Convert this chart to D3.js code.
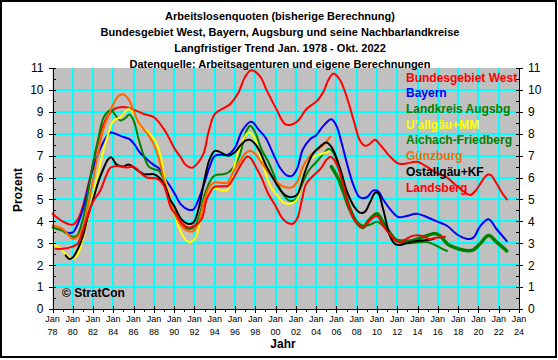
<!DOCTYPE html>
<html><head><meta charset="utf-8">
<script src="https://cdn.jsdelivr.net/npm/d3@7"></script>
<style>
body{margin:0;background:#fff}
svg{display:block}
text{font-family:Arial,"Liberation Sans",sans-serif}
</style>
</head><body>
<svg id="c" width="558" height="360"></svg>
<script>
const titleLines = [
  "Arbeitslosenquoten (bisherige Berechnung)",
  "Bundesgebiet West, Bayern, Augsburg und seine Nachbarlandkreise",
  "Langfristiger Trend Jan. 1978 - Okt. 2022",
  "Datenquelle: Arbeitsagenturen und eigene Berechnungen"
];
const seriesNames = ["Bundesgebiet West","Bayern","Landkreis Augsbg","U'allgäu+MM","Aichach-Friedberg","Günzburg","Ostallgäu+KF","Landsberg"];
const seriesColors = ["#ff0000","#0000ff","#008000","#ffff00","#008000","#ff6600","#000000","#ff0000"];
const yTickValues = [0,1,2,3,4,5,6,7,8,9,10,11];
const xTickYears = [1978,1980,1982,1984,1986,1988,1990,1992,1994,1996,1998,2000,2002,2004,2006,2008,2010,2012,2014,2016,2018,2020,2022,2024];
const xTickLabels = ["78","80","82","84","86","88","90","92","94","96","98","00","02","04","06","08","10","12","14","16","18","20","22","24"];

const bundWest = [[1978,4.35],[1979,4.0],[1980,3.85],[1980.5,4.1],[1981,4.7],[1982,6.6],[1983,8.4],[1984,9.1],[1985,9.22],[1986,9.1],[1987,8.9],[1988,8.75],[1989,8.2],[1989.5,7.8],[1990,7.35],[1990.6,6.95],[1991.2,6.55],[1991.8,6.45],[1992.4,6.7],[1992.9,7.1],[1993.4,8.1],[1994,8.9],[1995,9.2],[1995.5,9.35],[1996.3,9.85],[1997,10.6],[1997.6,10.9],[1998.5,10.6],[1999.1,10.0],[2000.1,9.1],[2000.9,8.45],[2001.4,8.4],[2002.1,8.55],[2003.1,9.15],[2004.1,9.5],[2004.7,9.9],[2005.2,10.45],[2005.7,10.75],[2006.35,10.45],[2007,9.7],[2007.7,8.6],[2008.3,7.7],[2008.8,7.45],[2009.2,7.5],[2009.8,7.72],[2010.3,7.5],[2011.3,6.95],[2012.1,6.64],[2012.9,6.64],[2013.9,6.72],[2014.9,6.5],[2015.9,6.2],[2016.9,6.0],[2017.9,5.6],[2019.2,5.2],[2019.8,5.45],[2020.8,6.1],[2021.2,6.12],[2021.7,5.8],[2022.2,5.4],[2022.8,5.0]];
const bayern = [[1979.2,3.5],[1980,3.5],[1980.5,3.9],[1981,4.55],[1982,6.4],[1983,7.6],[1983.7,8.05],[1984.3,7.98],[1985,7.85],[1985.6,7.75],[1986.1,7.5],[1986.6,7.15],[1987.3,6.84],[1987.9,6.6],[1988.6,6.38],[1989.1,5.95],[1989.6,5.6],[1990,5.3],[1990.7,4.75],[1991.4,4.53],[1991.9,4.55],[1992.4,5.0],[1993,5.78],[1993.5,6.5],[1994,6.99],[1994.7,7.04],[1995.3,7.04],[1996,7.37],[1996.7,8.13],[1997.5,8.54],[1997.8,8.5],[1998.3,8.2],[1999,7.83],[2000,6.84],[2000.5,6.4],[2001.1,6.1],[2001.6,6.08],[2002.1,6.38],[2002.7,7.3],[2003.4,7.75],[2004,7.93],[2004.7,8.36],[2005.5,8.66],[2006,8.36],[2006.5,7.6],[2007,6.7],[2007.7,5.62],[2008.3,5.1],[2009,5.1],[2009.6,5.4],[2010.1,5.38],[2010.6,5.0],[2011.3,4.55],[2012.1,4.2],[2012.9,4.24],[2013.9,4.35],[2014.9,4.2],[2015.9,4.0],[2016.9,3.8],[2017.9,3.4],[2018.9,3.2],[2019.5,3.26],[2020.2,3.8],[2021,4.1],[2021.8,3.64],[2022.8,3.1]];
const lkAugsburg = [[1978,3.72],[1979,3.57],[1980,3.3],[1980.4,3.34],[1981,4.1],[1981.5,5.3],[1982,6.7],[1982.5,7.75],[1983,8.7],[1983.5,9.02],[1983.8,9.08],[1984.2,8.85],[1984.7,8.6],[1985.2,8.72],[1985.6,8.88],[1986,8.6],[1986.5,7.75],[1987,7.0],[1987.5,6.5],[1988,6.38],[1988.5,6.3],[1989,5.85],[1989.6,4.9],[1990.2,4.3],[1990.8,3.8],[1991.5,3.65],[1992,3.75],[1992.5,4.3],[1993,5.2],[1993.5,5.8],[1994,6.1],[1994.8,6.15],[1995.4,6.25],[1996.3,6.84],[1996.8,7.6],[1997.2,8.2],[1997.5,8.36],[1998,8.05],[1998.6,7.3],[1999.3,6.7],[2000,5.93],[2000.6,5.35],[2001.2,4.98],[2001.8,4.95],[2002.2,5.15],[2002.7,5.8],[2003.4,6.4],[2004,6.7],[2004.7,7.07],[2005.2,7.3],[2005.7,7.14],[2006.2,6.5],[2006.7,5.6],[2007.3,4.7],[2008,4.0],[2008.6,3.8],[2009.3,3.85],[2010,3.98],[2010.6,3.8],[2011.3,3.4],[2012.1,3.06],[2012.9,3.0],[2013.9,3.03],[2014.9,3.06],[2015.6,2.95],[2016.2,2.8],[2016.9,2.65]];
const uallgaeu = [[1978,2.93],[1978.7,2.8],[1979.3,2.5],[1980,2.28],[1980.4,2.43],[1981,3.2],[1981.5,4.2],[1982,5.2],[1982.5,6.2],[1983,7.2],[1983.5,8.0],[1984,8.6],[1984.7,8.75],[1985.5,9.13],[1986.2,8.8],[1986.7,8.3],[1987.4,8.1],[1988.1,7.7],[1988.6,7.1],[1989.1,5.9],[1989.75,4.84],[1990.4,3.8],[1991.2,3.12],[1991.7,3.07],[1992.2,3.35],[1992.7,4.4],[1993.3,5.3],[1994,5.5],[1994.8,5.4],[1995.3,5.45],[1995.8,6.3],[1996.5,7.4],[1997.3,8.05],[1997.8,7.9],[1998.5,6.95],[1999.5,5.6],[2000.3,5.1],[2000.8,4.85],[2001.5,4.8],[2002.1,5.0],[2002.7,6.0],[2003.3,6.8],[2004,7.0],[2004.7,7.1],[2005.3,7.2]];
const aichach = [[2005.5,6.5],[2006.2,5.93],[2006.7,5.32],[2007.3,4.56],[2008,3.95],[2008.6,3.72],[2009.3,4.1],[2010,4.35],[2010.6,3.95],[2011.3,3.45],[2011.9,3.15],[2012.5,3.1],[2013.3,3.1],[2014,3.2],[2014.9,3.35],[2015.7,3.45],[2016.2,3.35],[2017,2.95],[2018,2.75],[2019,2.66],[2019.5,2.7],[2020.2,3.0],[2021,3.35],[2021.8,3.05],[2022.8,2.65]];
const guenzburg = [[1978,3.82],[1979,3.65],[1980,3.2],[1980.4,3.27],[1981,3.7],[1981.5,4.7],[1982,5.9],[1982.5,7.1],[1983,8.2],[1983.5,8.8],[1984,9.35],[1984.5,9.72],[1985,9.8],[1985.5,9.57],[1986,9.04],[1986.5,8.5],[1987,8.2],[1987.5,7.9],[1988,7.5],[1988.5,6.84],[1989,5.9],[1989.6,5.0],[1990,4.4],[1990.7,3.8],[1991.4,3.55],[1991.9,3.57],[1992.4,3.95],[1993,5.0],[1993.5,5.6],[1994,5.78],[1994.7,5.75],[1995.3,5.78],[1995.8,6.23],[1996.5,6.76],[1997,7.1],[1997.5,7.22],[1998,7.07],[1998.6,6.69],[1999.3,6.23],[2000,5.85],[2000.6,5.62],[2001.1,5.55],[2001.6,5.55],[2002.1,5.78],[2002.7,6.5],[2003.4,7.0],[2004,7.22],[2004.7,7.48],[2005.4,7.87]];
const ostallgaeu = [[1979.3,2.45],[1979.7,2.28],[1980,2.35],[1980.5,2.74],[1981,3.34],[1981.5,4.25],[1982,5.0],[1982.5,5.78],[1983,6.38],[1983.5,6.84],[1983.8,6.92],[1984.3,6.6],[1985,6.5],[1985.5,6.6],[1986,6.46],[1986.5,6.3],[1987,6.15],[1987.5,6.15],[1988,6.15],[1988.5,6.0],[1989,5.7],[1989.6,5.0],[1990,4.7],[1990.7,4.1],[1991.4,3.88],[1991.9,3.95],[1992.4,4.56],[1993,5.93],[1993.5,6.84],[1994,7.22],[1994.5,7.17],[1995.3,6.99],[1996,7.17],[1996.5,7.45],[1997,7.67],[1997.5,7.72],[1998,7.52],[1998.5,7.14],[1999,6.6],[2000,5.77],[2000.5,5.4],[2001,5.17],[2001.5,5.1],[2002.1,5.2],[2002.4,5.5],[2003,6.4],[2003.7,7.1],[2004.4,7.42],[2005,7.6],[2005.5,7.4],[2006,6.9],[2006.5,6.2],[2007,5.4],[2007.7,4.7],[2008.3,4.4],[2008.8,4.43],[2009.3,4.86],[2009.8,5.3],[2010.1,5.3],[2010.6,4.56],[2011.3,3.3],[2011.8,2.96],[2012.3,2.92],[2012.9,3.0],[2013.9,3.1],[2014.9,3.15],[2015.6,3.2]];
const landsberg = [[1978.3,2.75],[1979,2.75],[1980,2.85],[1980.5,3.0],[1981,3.6],[1981.5,4.3],[1982,4.9],[1982.7,5.4],[1983.3,6.1],[1983.7,6.45],[1984.3,6.53],[1985.3,6.46],[1986,6.5],[1986.6,6.25],[1987.3,6.0],[1988.3,5.95],[1988.9,5.7],[1989.3,5.2],[1989.7,4.6],[1990.2,4.3],[1990.7,3.95],[1991.4,3.72],[1992,3.8],[1992.7,4.1],[1993.2,5.0],[1993.9,5.55],[1994.7,5.6],[1995.3,5.62],[1995.8,5.93],[1996.5,6.53],[1997.2,6.96],[1997.5,6.9],[1998,6.53],[1998.6,6.0],[1999.3,5.24],[2000,4.7],[2000.6,4.18],[2001.1,3.95],[2001.6,3.88],[2002.1,4.1],[2002.6,5.0],[2003,5.7],[2003.7,6.08],[2004.4,6.38],[2005,6.8],[2005.4,6.95],[2005.7,6.85],[2006.2,6.4],[2006.7,5.62],[2007.3,4.56],[2008.1,3.88],[2008.6,3.72],[2009.3,4.05],[2010,4.24],[2010.6,3.8],[2011.3,3.38],[2011.9,3.1],[2012.3,3.05],[2012.9,3.2],[2013.6,3.35],[2014.4,3.35],[2015.1,3.2],[2015.8,3.25],[2016.7,3.3]];

const seriesData = [bundWest, bayern, lkAugsburg, uallgaeu, aichach, guenzburg, ostallgaeu, landsberg];
const seriesWidths = [2, 2, 2, 2, 3.5, 2, 2, 2];

const W = 558, H = 360;
const svg = d3.select("#c");
svg.append("rect").attr("width", W).attr("height", H).attr("fill", "#fff");
svg.append("rect").attr("x", 1).attr("y", 1).attr("width", 555).attr("height", 356)
  .attr("fill", "none").attr("stroke", "#000").attr("stroke-width", 2);

const x = d3.scaleLinear().domain([1978, 2024]).range([52.5, 519]);
const y = d3.scaleLinear().domain([0, 11]).range([309, 68]);

// plot background
svg.append("rect").attr("x", x(1978)).attr("y", y(11))
  .attr("width", x(2024) - x(1978)).attr("height", y(0) - y(11)).attr("fill", "#c0c0c0");

// grid
const grid = svg.append("g").attr("stroke", "#00ffff").attr("stroke-width", 2).attr("shape-rendering", "crispEdges");
grid.selectAll("line.v").data(xTickYears.filter(d => d > 1978 && d < 2024)).join("line").attr("class", "v")
  .attr("x1", d => x(d)).attr("x2", d => x(d)).attr("y1", y(0)).attr("y2", y(11));
grid.selectAll("line.h").data(yTickValues.filter(d => d > 0 && d < 11)).join("line").attr("class", "h")
  .attr("x1", x(1978)).attr("x2", x(2024)).attr("y1", d => y(d)).attr("y2", d => y(d));

// lines
const line = d3.line().x(d => x(d[0])).y(d => y(d[1])).curve(d3.curveCatmullRom.alpha(0.5));
const lg = svg.append("g").attr("fill", "none").attr("stroke-linejoin", "round").attr("stroke-linecap", "round");
seriesData.forEach((data, i) => {
  lg.append("path").datum(data).attr("d", line)
    .attr("stroke", seriesColors[i]).attr("stroke-width", seriesWidths[i]);
});

// axes
function styleAxis(g) {
  g.attr("font-family", "Arial, 'Liberation Sans', sans-serif");
  g.selectAll(".domain").attr("stroke", "#000").attr("shape-rendering", "crispEdges");
  g.selectAll(".tick line").attr("stroke", "#000").attr("shape-rendering", "crispEdges");
}
const yLeft = svg.append("g").attr("transform", `translate(${x(1978)},0)`)
  .call(d3.axisLeft(y).tickValues(yTickValues).tickSizeInner(4).tickSizeOuter(0).tickPadding(5).tickFormat(d3.format("d")));
styleAxis(yLeft);
yLeft.attr("font-size", 12);
yLeft.selectAll(".tick line").attr("x2", -4).attr("x1", 3);
const yLeftMinor = svg.append("g").attr("transform", `translate(${x(1978)},0)`)
  .call(d3.axisRight(y).tickValues(yTickValues.slice(0, -1).map(v => v + 0.5)).tickSizeInner(3).tickSizeOuter(0).tickFormat(""));
styleAxis(yLeftMinor);
yLeftMinor.select(".domain").remove();

const yRight = svg.append("g").attr("transform", `translate(${x(2024)},0)`)
  .call(d3.axisRight(y).tickValues(yTickValues).tickSizeInner(4).tickSizeOuter(0).tickPadding(5).tickFormat(d3.format("d")));
styleAxis(yRight);
yRight.attr("font-size", 12);
yRight.selectAll(".tick line").attr("x1", -3).attr("x2", 4);
const yRightMinor = svg.append("g").attr("transform", `translate(${x(2024)},0)`)
  .call(d3.axisLeft(y).tickValues(yTickValues.slice(0, -1).map(v => v + 0.5)).tickSizeInner(3).tickSizeOuter(0).tickFormat(""));
styleAxis(yRightMinor);
yRightMinor.select(".domain").remove();

const xAxis = svg.append("g").attr("transform", `translate(0,${y(0)})`)
  .call(d3.axisBottom(x).tickValues(xTickYears).tickSizeInner(4).tickSizeOuter(0).tickFormat(""));
styleAxis(xAxis);
xAxis.selectAll(".tick line").attr("y1", -3).attr("y2", 4);
const xMinor = svg.append("g").attr("transform", `translate(0,${y(0)})`)
  .call(d3.axisBottom(x).tickValues(xTickYears.slice(0, -1).map(v => v + 1)).tickSizeInner(3).tickSizeOuter(0).tickFormat(""));
styleAxis(xMinor);
xMinor.select(".domain").remove();

const xl = svg.append("g").attr("font-size", 9).attr("text-anchor", "middle").attr("fill", "#000");
xTickYears.forEach((yr, i) => {
  xl.append("text").attr("x", x(yr)).attr("y", 322).text("Jan");
  xl.append("text").attr("x", x(yr)).attr("y", 335).text(xTickLabels[i]);
});

// titles
const tg = svg.append("g").attr("font-size", 11).attr("font-weight", "bold").attr("text-anchor", "middle");
titleLines.forEach((t, i) => {
  tg.append("text").attr("x", 280).attr("y", [20, 36, 52, 68][i] - 0).text(t);
});

// axis titles
svg.append("text").attr("x", 283).attr("y", 348).attr("text-anchor", "middle")
  .attr("font-size", 12).attr("font-weight", "bold").text("Jahr");
svg.append("text").attr("transform", "translate(22,190) rotate(-90)").attr("text-anchor", "middle")
  .attr("font-size", 12).attr("font-weight", "bold").text("Prozent");

// legend
const leg = svg.append("g").attr("font-size", 12).attr("font-weight", "bold");
seriesNames.forEach((n, i) => {
  leg.append("text").attr("x", 406).attr("y", 77.3 + i * 15.7).attr("dy", "0.36em")
    .attr("fill", seriesColors[i]).text(n);
});

// copyright
svg.append("text").attr("x", 62).attr("y", 293).attr("dy", "0.36em")
  .attr("font-size", 12).attr("font-weight", "bold").text("© StratCon");
</script>
</body></html>
